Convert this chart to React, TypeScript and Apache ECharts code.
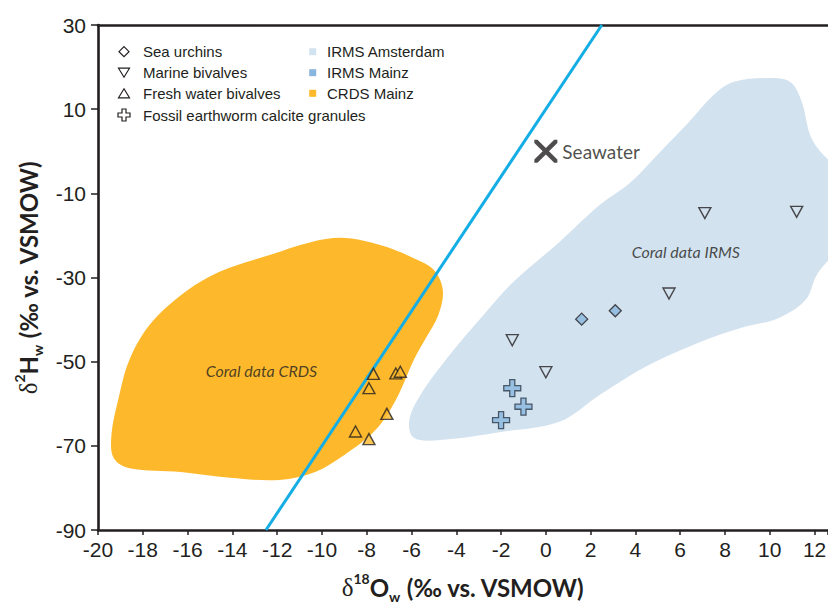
import React, { useEffect, useRef } from 'react';
import * as echarts from 'echarts';

// ---- data (δ18O, δ2H) ----
const seaUrchins = [[1.6, -39.9], [3.1, -37.9]];
const marineBivalves = [[7.1, -14.7], [11.2, -14.4], [5.5, -33.8], [-1.5, -44.9], [0.0, -52.5]];
const freshWaterBivalves = [[-7.7, -52.9], [-7.9, -56.3], [-6.7, -52.8], [-6.5, -52.4], [-7.1, -62.4], [-8.5, -66.6], [-7.9, -68.4]];
const earthwormGranules = [[-1.5, -56.3], [-1.0, -60.7], [-2.0, -63.9]];
const seawater = [[0, 0]];
const gmwl = [[-12.5, -90], [2.5, 30]];
const irmsAmsterdamArea = [
  [8.4, 16.5], [10.0, 17.4], [10.9, 16.5], [11.4, 12.2], [11.9, 2.7], [13.2, -6.8], [13.2, -21.1],
  [12.1, -29.4], [11.6, -35.3], [10.4, -39.6], [8.7, -42.0], [6.9, -45.3], [4.6, -50.8], [2.4, -57.9],
  [0.6, -64.3], [-2.0, -66.7], [-4.7, -68.6], [-5.9, -68.1], [-6.1, -63.9], [-5.6, -57.9], [-4.3, -48.4],
  [-2.9, -39.6], [-1.5, -31.3], [0.6, -21.6], [2.4, -12.8], [3.8, -7.3], [5.1, -0.2], [6.4, 7.0], [7.5, 13.4],
];
const crdsMainzArea = [
  [-9.0, -20.6], [-7.4, -22.3], [-5.9, -25.4], [-5.0, -28.2], [-4.6, -33.0], [-4.8, -38.9], [-5.4, -44.8],
  [-5.9, -49.6], [-6.7, -59.1], [-7.6, -66.2], [-9.0, -72.2], [-10.3, -76.2], [-11.9, -78.1], [-14.1, -77.6],
  [-16.3, -76.2], [-18.6, -75.3], [-19.3, -72.9], [-19.4, -67.4], [-19.1, -59.1], [-18.6, -49.6], [-17.7, -41.3],
  [-16.3, -34.2], [-14.6, -28.7], [-12.3, -24.6], [-10.5, -21.6],
];
const coralIrmsLabel = [[6.25, -23.9]];
const coralCrdsLabel = [[-12.7, -52.0]];
const xTickValues = [-20, -18, -16, -14, -12, -10, -8, -6, -4, -2, 0, 2, 4, 6, 8, 10, 12];

const INK = '#231f20';
const C_AMS = '#d3e2ef';
const C_MAINZ = '#88b6dd';
const C_CRDS = '#fdb92b';
const C_LINE = '#14ade4';
const F_TICK = '"Liberation Sans", Arial, sans-serif';
const F_HUM = 'Lato, "Open Sans", sans-serif';

const DOWN_TRI = 'path://M0,0 L12,0 L6,11 Z';
const PLUS = 'path://M7,0 L13,0 L13,7 L20,7 L20,13 L13,13 L13,20 L7,20 L7,13 L0,13 L0,7 L7,7 Z';
const XMARK = 'path://M0,0 L3,0 L11,8 L19,0 L22,0 L22,3 L14,11 L22,19 L22,22 L19,22 L11,14 L3,22 L0,22 L0,19 L8,11 L0,3 Z';

const titleRich = {
  d: { fontFamily: '"Liberation Serif", serif', fontSize: 25, fontWeight: 'normal', color: INK, lineHeight: 32 },
  sup: { fontFamily: F_HUM, fontSize: 14, fontWeight: 'bold', color: INK, verticalAlign: 'top', lineHeight: 22 },
  b: { fontFamily: F_HUM, fontSize: 24, fontWeight: 'bold', color: INK, lineHeight: 32 },
  sub: { fontFamily: F_HUM, fontSize: 14, fontWeight: 'bold', color: INK, verticalAlign: 'bottom', lineHeight: 6 },
};

function polySeries(name: string, pts: number[][], color: string, z: number) {
  return {
    type: 'custom',
    name,
    data: pts,
    clip: true,
    silent: true,
    z,
    renderItem: (params: any, api: any) => {
      if (params.dataIndex !== 0) return null;
      const points = pts.map((p) => api.coord(p));
      return { type: 'polygon', shape: { points, smooth: 0.35 }, style: { fill: color } };
    },
  };
}

function legendGraphic() {
  const els: any[] = [];
  const lx = 124;
  const rows = [51.7, 72.7, 93.3, 115];
  const sym = { stroke: INK, lineWidth: 1.2, fill: '#fff' };
  els.push({ type: 'polygon', shape: { points: [[lx, rows[0] - 5], [lx + 5, rows[0]], [lx, rows[0] + 5], [lx - 5, rows[0]]] }, style: sym });
  els.push({ type: 'polygon', shape: { points: [[lx - 5.5, rows[1] - 4.5], [lx + 5.5, rows[1] - 4.5], [lx, rows[1] + 4.5]] }, style: sym });
  els.push({ type: 'polygon', shape: { points: [[lx, rows[2] - 4.5], [lx + 5.5, rows[2] + 4.5], [lx - 5.5, rows[2] + 4.5]] }, style: sym });
  const c = rows[3];
  const a = 2, s = 6;
  els.push({
    type: 'polygon',
    shape: {
      points: [[lx - a, c - s], [lx + a, c - s], [lx + a, c - a], [lx + s, c - a], [lx + s, c + a], [lx + a, c + a],
        [lx + a, c + s], [lx - a, c + s], [lx - a, c + a], [lx - s, c + a], [lx - s, c - a], [lx - a, c - a]],
    },
    style: sym,
  });
  const leftTexts = ['Sea urchins', 'Marine bivalves', 'Fresh water bivalves', 'Fossil earthworm calcite granules'];
  leftTexts.forEach((t, i) => {
    els.push({ type: 'text', x: 143, y: rows[i], style: { text: t, fill: INK, fontSize: 15, fontFamily: F_TICK, verticalAlign: 'middle' } });
  });
  const rightTexts = ['IRMS Amsterdam', 'IRMS Mainz', 'CRDS Mainz'];
  const rightCols = [C_AMS, C_MAINZ, C_CRDS];
  rightTexts.forEach((t, i) => {
    els.push({ type: 'rect', shape: { x: 309.2, y: rows[i] - 3.5, width: 7, height: 7 }, style: { fill: rightCols[i] } });
    els.push({ type: 'text', x: 327, y: rows[i], style: { text: t, fill: INK, fontSize: 15, fontFamily: F_TICK, verticalAlign: 'middle' } });
  });
  return els;
}

export default function App() {
  const ref = useRef<HTMLDivElement>(null);
  useEffect(() => {
    const chart = echarts.init(ref.current!, null, { renderer: 'svg' });
    const axisLine = { show: true, onZero: false, lineStyle: { color: INK, width: 2.6 } };
    chart.setOption({
      animation: false,
      backgroundColor: '#ffffff',
      grid: { left: 98, top: 25, right: 0, bottom: 74, containLabel: false, outerBoundsMode: 'none' },
      xAxis: [
        {
          type: 'value', min: -20, max: 12.6, interval: 2, position: 'bottom',
          axisLine,
          axisTick: { show: true, length: 5, lineStyle: { color: INK, width: 1.5 } },
          axisLabel: {
            margin: 9, fontSize: 21, fontFamily: F_TICK, color: INK,
            formatter: (v: number) => (xTickValues.includes(Math.round(v * 100) / 100) ? String(v) : ''),
          },
          splitLine: { show: false },
          name: '{d|δ}{sup|18}{b|O}{sub|w}{b| (‰ vs. VSMOW)}',
          nameLocation: 'middle', nameGap: 41,
          nameTextStyle: { rich: titleRich },
        },
        {
          type: 'value', min: -20, max: 12.6, position: 'top',
          axisLine, axisTick: { show: false }, axisLabel: { show: false }, splitLine: { show: false },
        },
      ],
      yAxis: {
        type: 'value', min: -90, max: 30, interval: 20,
        axisLine,
        axisTick: { show: true, length: 7, lineStyle: { color: INK, width: 1.5 } },
        axisLabel: { margin: 12, fontSize: 21, fontFamily: F_TICK, color: INK },
        splitLine: { show: false },
        name: '{d|δ}{sup|2}{b|H}{sub|w}{b| (‰ vs. VSMOW)}',
        nameLocation: 'middle', nameGap: 54,
        nameTextStyle: { rich: titleRich },
      },
      graphic: legendGraphic(),
      series: [
        polySeries('IRMS Amsterdam', irmsAmsterdamArea, C_AMS, 1),
        polySeries('CRDS Mainz', crdsMainzArea, C_CRDS, 1),
        {
          type: 'line', name: 'GMWL', data: gmwl, showSymbol: false, symbol: 'none', z: 3,
          lineStyle: { color: C_LINE, width: 3 }, silent: true,
        },
        {
          type: 'scatter', name: 'Coral IRMS', data: coralIrmsLabel, symbolSize: 0.1, z: 2, silent: true,
          itemStyle: { color: 'transparent' },
          label: { show: true, position: 'inside', formatter: 'Coral data IRMS', fontFamily: F_HUM, fontStyle: 'italic', fontSize: 16, color: INK },
        },
        {
          type: 'scatter', name: 'Coral CRDS', data: coralCrdsLabel, symbolSize: 0.1, z: 2, silent: true,
          itemStyle: { color: 'transparent' },
          label: { show: true, position: 'inside', formatter: 'Coral data CRDS', fontFamily: F_HUM, fontStyle: 'italic', fontSize: 16, color: INK },
        },
        {
          type: 'scatter', name: 'Fresh water bivalves', data: freshWaterBivalves, symbol: 'triangle', symbolSize: [12, 11], z: 5,
          itemStyle: { color: C_CRDS, borderColor: INK, borderWidth: 1.4 },
        },
        {
          type: 'scatter', name: 'Marine bivalves', data: marineBivalves, symbol: DOWN_TRI, symbolSize: [12, 11], z: 5,
          itemStyle: { color: 'transparent', borderColor: INK, borderWidth: 1.4 },
        },
        {
          type: 'scatter', name: 'Sea urchins', data: seaUrchins, symbol: 'diamond', symbolSize: 12, z: 5,
          itemStyle: { color: C_MAINZ, borderColor: INK, borderWidth: 1.3 },
        },
        {
          type: 'scatter', name: 'Fossil earthworm calcite granules', data: earthwormGranules, symbol: PLUS, symbolSize: 17, z: 5,
          itemStyle: { color: C_MAINZ, borderColor: '#2a3a48', borderWidth: 1.3 },
        },
        {
          type: 'scatter', name: 'Seawater', data: seawater, symbol: XMARK, symbolSize: 23, z: 6,
          itemStyle: { color: INK },
          label: { show: true, position: 'right', distance: 5, formatter: 'Seawater', fontFamily: F_HUM, fontSize: 19, color: INK },
        },
      ],
    });
    return () => chart.dispose();
  }, []);
  return <div ref={ref} style={{ position: 'fixed', left: 0, top: 0, width: 828, height: 604, background: '#fff' }} />;
}
